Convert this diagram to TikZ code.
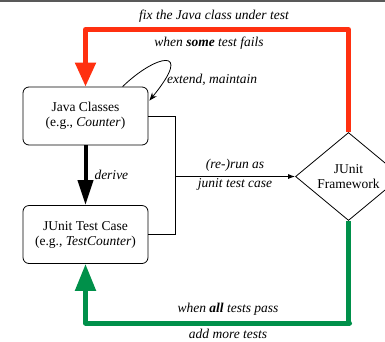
\documentclass[tikz,border=0pt]{standalone}
\usepackage{fontspec}
\setmainfont{Liberation Serif}
\newfontfamily\diagramfont{Liberation Serif}
\usetikzlibrary{arrows.meta,shapes.geometric,calc}
\definecolor{failred}{HTML}{FF3010}
\definecolor{passgreen}{HTML}{00904A}
\begin{document}
\begin{tikzpicture}[x=1pt,y=-1pt,
  font=\diagramfont\fontsize{13.5}{15}\selectfont,
  classbox/.style={draw, rounded corners=6pt, minimum width=125pt, minimum height=58pt, align=center, line width=0.8pt, inner sep=0pt},
  framework/.style={draw, diamond, minimum width=106pt, minimum height=88pt, aspect=1.2, inner sep=0pt, align=center, line width=0.8pt},
  lbl/.style={font=\diagramfont\fontsize{13.5}{15}\selectfont\itshape, inner sep=0pt},
  loopback/.style={line width=5pt, line join=round},
  thin/.style={line width=0.8pt}]
\useasboundingbox (0,0) rectangle (385,341);
% top rule
\draw[gray!70!black, line width=1.5pt] (0,0.75) -- (385,0.75);

% nodes
\node[classbox] (java) at (85.5,116) {Java Classes\\(e.g., \textit{Counter})};
\node[classbox] (test) at (85.5,234.5) {JUnit Test Case\\(e.g., \textit{TestCounter})};
\node[framework] (junit) at (348.5,176.5) {JUnit\\Framework};

% derive
\draw[line width=4pt, -{Triangle[length=25pt,width=15pt]}] (java.south) -- (test.north)
  node[lbl, midway, anchor=west, xshift=7pt] {derive};

% extend / maintain self loop
\coordinate (loopstart) at ($(java.north west)+(100,0)$);
\coordinate (loopend) at ($(java.north east)+(1,14)$);
\draw[thin, -{Stealth[length=8pt,width=6pt]}] (loopstart) .. controls (155,55) and (195,45) .. (loopend);
\node[lbl, anchor=west] (extend) at (167,80) {extend, maintain};

% (re-)run bracket
\coordinate (brk) at (175,176.5);
\draw[thin] (java.east) -| (brk);
\draw[thin] (test.east) -| (brk);
\draw[thin, -{Latex[length=7pt,width=5pt]}] (brk) -- (junit.west)
  node[lbl, midway, above=5pt, anchor=south] {(re-)run as}
  node[lbl, midway, below=2pt, anchor=north] {junit test case};

% failure loop
\coordinate (redtop) at (348.5,29.5);
\draw[failred, loopback, -{Triangle[length=24pt,width=20pt]}] (junit.north) |- (redtop) -| (java.north);
\node[lbl] (fix) at (214,16) {fix the Java class under test};
\node[lbl] (fails) at (209,43) {when \textbf{some} test fails};

% success loop
\coordinate (greenbot) at (349.5,323);
\draw[passgreen, loopback, -{Triangle[length=27pt,width=20pt]}] (junit.south) |- (greenbot) -| (test.south);
\node[lbl] (pass) at (228,309) {when \textbf{all} tests pass};
\node[lbl] (more) at (228,333.5) {add more tests};
\end{tikzpicture}
\end{document}
